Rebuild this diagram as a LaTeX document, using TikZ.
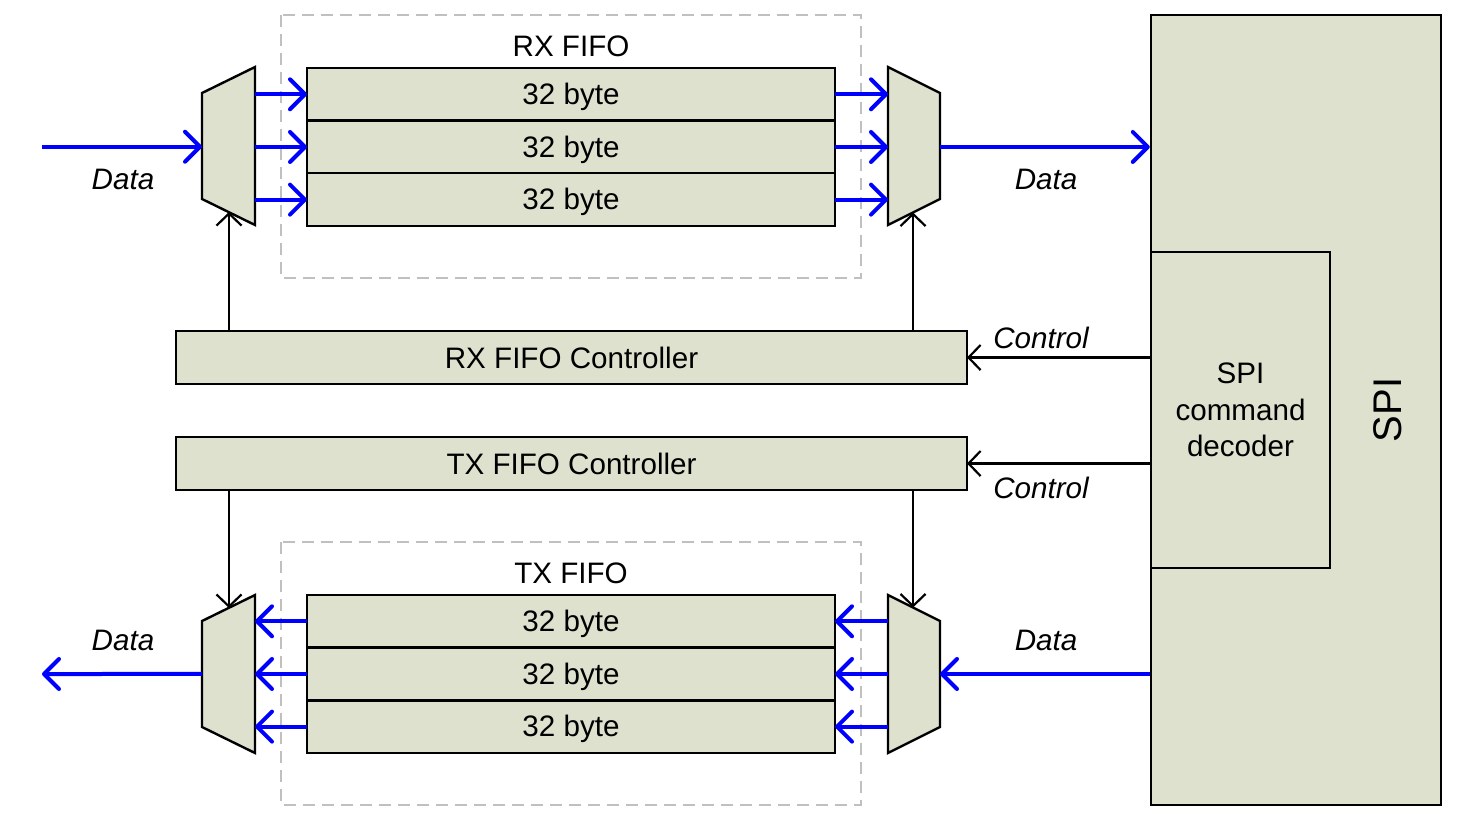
\documentclass[tikz,border=0pt]{standalone}
\usepackage{fontspec}
\setmainfont{Liberation Sans}
\usetikzlibrary{arrows.meta,positioning,calc}
\definecolor{boxfill}{RGB}{221,225,206}
\definecolor{fifogray}{RGB}{192,192,192}

\begin{document}
\begin{tikzpicture}[x=0.5pt, y=-0.5pt,
  every node/.style={font=\fontsize{14.8}{18.25}\selectfont},
  cell/.style={draw, line width=1.2pt, fill=boxfill, minimum width=264pt,
    minimum height=26.33pt, inner sep=0pt, outer sep=0pt, text depth=0.5pt},
  ctrlbox/.style={draw, line width=1.2pt, fill=boxfill, minimum width=395.5pt,
    minimum height=26.5pt, inner sep=0pt, outer sep=0pt},
  mux/.style={draw, line width=1.2pt, fill=boxfill, line join=miter},
  fifobox/.style={draw=fifogray, line width=1.2pt, dash pattern=on 6pt off 3.5pt},
  dataarrow/.style={blue, line width=2pt, -{Straight Barb[length=7.5pt,width=15pt,round]}},
  ctlarrow/.style={line width=1.1pt, -{Straight Barb[length=6pt,width=12.5pt]}},
  lbl/.style={font=\fontsize{14.8}{18.25}\selectfont\itshape}]
  \useasboundingbox (0,0) rectangle (1472,826);

  %% SPI block and command decoder
  \node[draw, line width=1.2pt, fill=boxfill, minimum width=145pt, minimum height=395pt,
    inner sep=0pt] (spi) at (1296,410) {};
  \node[draw, line width=1.2pt, fill=boxfill, minimum width=89.5pt, minimum height=158pt,
    inner sep=0pt, align=center] (dec) at (1240.5,410) {SPI\\command\\decoder};
  \node[rotate=90, font=\fontsize{20}{24}\selectfont] (spilbl) at (1388,410) {SPI};

  %% FIFO frames
  \draw[fifobox] (281,15) rectangle (861,278);
  \draw[fifobox] (281,542) rectangle (861,805);
  \node (rxlbl) at (571,46) {RX FIFO};
  \node (txlbl) at (571,573) {TX FIFO};

  %% FIFO cells
  \node[cell] (rxc1) at (571,94.3) {32 byte};
  \node[cell, below=0pt of rxc1] (rxc2) {32 byte};
  \node[cell, below=0pt of rxc2] (rxc3) {32 byte};
  \node[cell] (txc1) at (571,621.3) {32 byte};
  \node[cell, below=0pt of txc1] (txc2) {32 byte};
  \node[cell, below=0pt of txc2] (txc3) {32 byte};

  %% Controllers
  \node[ctrlbox] (rxctl) at (571.5,357.5) {RX FIFO Controller};
  \node[ctrlbox] (txctl) at (571.5,463.5) {TX FIFO Controller};

  %% Multiplexers
  \draw[mux] (202,93) -- (255,67) -- (255,225) -- (202,199) -- cycle;
  \draw[mux] (888,67) -- (940,93) -- (940,199) -- (888,225) -- cycle;
  \draw[mux] (202,621) -- (255,595) -- (255,753) -- (202,727) -- cycle;
  \draw[mux] (888,595) -- (940,621) -- (940,727) -- (888,753) -- cycle;
  \coordinate (muxLin) at (202,0);
  \coordinate (muxLout) at (255,0);
  \coordinate (muxRin) at (888,0);
  \coordinate (muxRout) at (940,0);
  \coordinate (rxLsel) at (229,212);
  \coordinate (rxRsel) at (913,212.5);
  \coordinate (txLsel) at (229,608);
  \coordinate (txRsel) at (913,607.5);
  \coordinate (rxin) at (42,146.7);
  \coordinate (txout) at (42,674);

  %% Data paths
  \foreach \i in {1,2,3} {
    \draw[dataarrow] (rxc\i.west -| muxLout) -- (rxc\i.west);
    \draw[dataarrow] (rxc\i.east) -- (rxc\i.east -| muxRin);
    \draw[dataarrow] (txc\i.west) -- (txc\i.west -| muxLout);
    \draw[dataarrow] (txc\i.east -| muxRin) -- (txc\i.east);
  }
  \draw[dataarrow] (rxin) -- (rxin -| muxLin);
  \draw[dataarrow] (rxc2.east -| muxRout) -- (rxc2.east -| spi.west);
  \draw[dataarrow] (txc2.east -| spi.west) -- (txc2.east -| muxRout);
  \draw[dataarrow] (txc2.west -| muxLin) -- (txout);
  \node[lbl] (d1) at (123,179) {Data};
  \node[lbl] (d2) at (1046,179) {Data};
  \node[lbl] (d3) at (123,640) {Data};
  \node[lbl] (d4) at (1046,640) {Data};

  %% Select lines
  \draw[ctlarrow] (rxctl.north -| rxLsel) -- (rxLsel);
  \draw[ctlarrow] (rxctl.north -| rxRsel) -- (rxRsel);
  \draw[ctlarrow] (txctl.south -| txLsel) -- (txLsel);
  \draw[ctlarrow] (txctl.south -| txRsel) -- (txRsel);

  %% Control from decoder
  \draw[ctlarrow] (rxctl.east -| dec.west) -- (rxctl.east);
  \draw[ctlarrow] (txctl.east -| dec.west) -- (txctl.east);
  \node[lbl] (c1) at (1041,338) {Control};
  \node[lbl] (c2) at (1041,488) {Control};
\end{tikzpicture}
\end{document}
